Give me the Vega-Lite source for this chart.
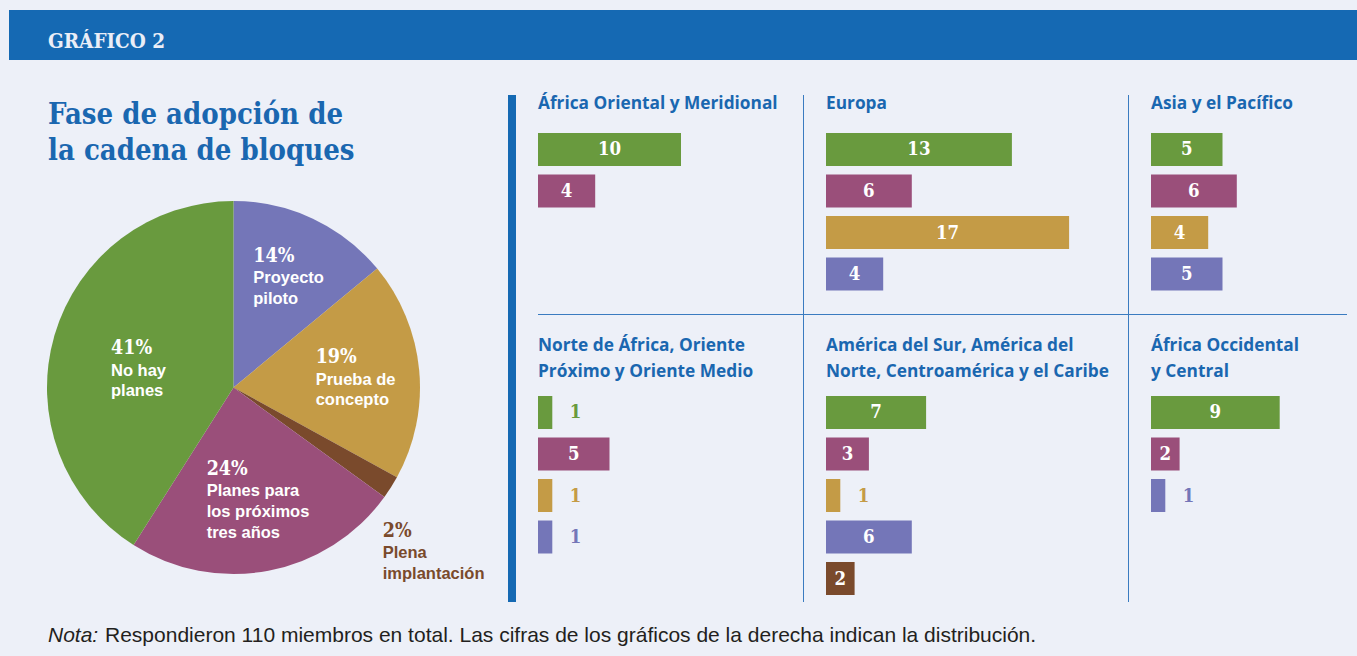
{
  "$schema": "https://vega.github.io/schema/vega-lite/v6.json",
  "background": "#EDF0F8",
  "padding": {"left": 9, "top": 10, "right": 0, "bottom": 10},
  "spacing": 34,
  "config": {"view": {"stroke": null}},
  "datasets": {
    "pastel": [
      {"fase": "Proyecto piloto", "etiqueta": "Proyecto\npiloto", "pct": 0.14, "orden": 1},
      {"fase": "Prueba de concepto", "etiqueta": "Prueba de\nconcepto", "pct": 0.19, "orden": 2},
      {"fase": "Plena implantación", "etiqueta": "Plena\nimplantación", "pct": 0.02, "orden": 3},
      {"fase": "Planes para los próximos tres años", "etiqueta": "Planes para\nlos próximos\ntres años", "pct": 0.24, "orden": 4},
      {"fase": "No hay planes", "etiqueta": "No hay\nplanes", "pct": 0.41, "orden": 5}
    ],
    "barras": [
      {"region": "África Oriental y Meridional", "fase": "No hay planes", "n": 10},
      {"region": "África Oriental y Meridional", "fase": "Planes para los próximos tres años", "n": 4},
      {"region": "Europa", "fase": "No hay planes", "n": 13},
      {"region": "Europa", "fase": "Planes para los próximos tres años", "n": 6},
      {"region": "Europa", "fase": "Prueba de concepto", "n": 17},
      {"region": "Europa", "fase": "Proyecto piloto", "n": 4},
      {"region": "Asia y el Pacífico", "fase": "No hay planes", "n": 5},
      {"region": "Asia y el Pacífico", "fase": "Planes para los próximos tres años", "n": 6},
      {"region": "Asia y el Pacífico", "fase": "Prueba de concepto", "n": 4},
      {"region": "Asia y el Pacífico", "fase": "Proyecto piloto", "n": 5},
      {"region": "Norte de África, Oriente Próximo y Oriente Medio", "fase": "No hay planes", "n": 1},
      {"region": "Norte de África, Oriente Próximo y Oriente Medio", "fase": "Planes para los próximos tres años", "n": 5},
      {"region": "Norte de África, Oriente Próximo y Oriente Medio", "fase": "Prueba de concepto", "n": 1},
      {"region": "Norte de África, Oriente Próximo y Oriente Medio", "fase": "Proyecto piloto", "n": 1},
      {"region": "América del Sur, América del Norte, Centroamérica y el Caribe", "fase": "No hay planes", "n": 7},
      {"region": "América del Sur, América del Norte, Centroamérica y el Caribe", "fase": "Planes para los próximos tres años", "n": 3},
      {"region": "América del Sur, América del Norte, Centroamérica y el Caribe", "fase": "Prueba de concepto", "n": 1},
      {"region": "América del Sur, América del Norte, Centroamérica y el Caribe", "fase": "Proyecto piloto", "n": 6},
      {"region": "América del Sur, América del Norte, Centroamérica y el Caribe", "fase": "Plena implantación", "n": 2},
      {"region": "África Occidental y Central", "fase": "No hay planes", "n": 9},
      {"region": "África Occidental y Central", "fase": "Planes para los próximos tres años", "n": 2},
      {"region": "África Occidental y Central", "fase": "Proyecto piloto", "n": 1}
    ]
  },
  "vconcat": [
    {
      "width": 1348, "height": 50,
      "data": {"values": []},
      "mark": "point",
      "view": {"fill": "#1569B3", "stroke": null},
      "title": {"text": "GRÁFICO 2", "anchor": "start", "orient": "top", "offset": -42.5, "dx": 39, "font": "DejaVu Serif Condensed, DejaVu Serif", "fontSize": 20.5, "fontWeight": "bold", "color": "#EAEEF7"}
    },
    {
      "spacing": 23,
      "vconcat": [
        {
          "spacing": 23,
          "hconcat": [
            {"width": 15, "height": 1, "data": {"values": []}, "mark": "point"},
            {
              "spacing": 35,
              "vconcat": [
                {"width": 373, "height": 1, "data": {"values": []}, "mark": "point",
                 "title": {"text": ["Fase de adopción de", "la cadena de bloques"], "orient": "bottom", "anchor": "start", "offset": 5, "dx": 1,
                   "font": "DejaVu Serif Condensed, DejaVu Serif", "fontSize": 29, "fontWeight": "bold", "color": "#1A67B0", "lineHeight": 36, "limit": 400}},
                {
                  "width": 373, "height": 373,
                  "data": {"name": "pastel"},
                  "encoding": {
                    "theta": {"field": "pct", "type": "quantitative", "stack": true},
                    "order": {"field": "orden", "type": "quantitative"}
                  },
                  "layer": [
                    {"mark": {"type": "arc"},
                     "encoding": {"color": {"field": "fase", "type": "nominal", "legend": null,
                       "scale": {"domain": ["No hay planes", "Planes para los próximos tres años", "Prueba de concepto", "Proyecto piloto", "Plena implantación"],
                                 "range": ["#699A3E", "#9A4F7A", "#C49B46", "#7476B8", "#7A4A2C"]}}}},
                    {"mark": {"type": "text", "radius": 131, "dx": -36, "dy": -7, "align": "left", "baseline": "alphabetic", "font": "DejaVu Serif Condensed, DejaVu Serif", "fontSize": 19.5, "fontWeight": "bold", "color": "white"},
                     "encoding": {"text": {"condition": {"test": "datum.fase !== 'Proyecto piloto'", "value": ""}, "field": "pct", "type": "quantitative", "format": ".0%"}}},
                    {"mark": {"type": "text", "radius": 131, "dx": -36, "dy": 14.3, "align": "left", "baseline": "alphabetic", "font": "Liberation Sans", "fontSize": 16.5, "fontWeight": "bold", "color": "white", "lineBreak": "\n", "lineHeight": 20.7},
                     "encoding": {"text": {"condition": {"test": "datum.fase !== 'Proyecto piloto'", "value": ""}, "field": "etiqueta", "type": "nominal"}}},
                    {"mark": {"type": "text", "radius": 124, "dx": -41.3, "dy": -12.5, "align": "left", "baseline": "alphabetic", "font": "DejaVu Serif Condensed, DejaVu Serif", "fontSize": 19.5, "fontWeight": "bold", "color": "white"},
                     "encoding": {"text": {"condition": {"test": "datum.fase !== 'Prueba de concepto'", "value": ""}, "field": "pct", "type": "quantitative", "format": ".0%"}}},
                    {"mark": {"type": "text", "radius": 124, "dx": -41.3, "dy": 8.8, "align": "left", "baseline": "alphabetic", "font": "Liberation Sans", "fontSize": 16.5, "fontWeight": "bold", "color": "white", "lineBreak": "\n", "lineHeight": 20.7},
                     "encoding": {"text": {"condition": {"test": "datum.fase !== 'Prueba de concepto'", "value": ""}, "field": "etiqueta", "type": "nominal"}}},
                    {"mark": {"type": "text", "radius": 98, "dx": -45.2, "dy": -8.8, "align": "left", "baseline": "alphabetic", "font": "DejaVu Serif Condensed, DejaVu Serif", "fontSize": 19.5, "fontWeight": "bold", "color": "white"},
                     "encoding": {"text": {"condition": {"test": "datum.fase !== 'Planes para los próximos tres años'", "value": ""}, "field": "pct", "type": "quantitative", "format": ".0%"}}},
                    {"mark": {"type": "text", "radius": 98, "dx": -45.2, "dy": 12.5, "align": "left", "baseline": "alphabetic", "font": "Liberation Sans", "fontSize": 16.5, "fontWeight": "bold", "color": "white", "lineBreak": "\n", "lineHeight": 20.7},
                     "encoding": {"text": {"condition": {"test": "datum.fase !== 'Planes para los próximos tres años'", "value": ""}, "field": "etiqueta", "type": "nominal"}}},
                    {"mark": {"type": "text", "radius": 85, "dx": -40.9, "dy": -9.5, "align": "left", "baseline": "alphabetic", "font": "DejaVu Serif Condensed, DejaVu Serif", "fontSize": 19.5, "fontWeight": "bold", "color": "white"},
                     "encoding": {"text": {"condition": {"test": "datum.fase !== 'No hay planes'", "value": ""}, "field": "pct", "type": "quantitative", "format": ".0%"}}},
                    {"mark": {"type": "text", "radius": 85, "dx": -40.9, "dy": 11.8, "align": "left", "baseline": "alphabetic", "font": "Liberation Sans", "fontSize": 16.5, "fontWeight": "bold", "color": "white", "lineBreak": "\n", "lineHeight": 20.7},
                     "encoding": {"text": {"condition": {"test": "datum.fase !== 'No hay planes'", "value": ""}, "field": "etiqueta", "type": "nominal"}}},
                    {"transform": [{"stack": "pct", "groupby": [], "sort": [{"field": "orden", "order": "ascending"}], "as": ["ini", "fin"]}, {"filter": "datum.fase === 'Plena implantación'"}],
                     "mark": {"type": "text", "radius": 215, "dx": -24.7, "dy": 22.8, "align": "left", "baseline": "alphabetic", "font": "DejaVu Serif Condensed, DejaVu Serif", "fontSize": 19.5, "fontWeight": "bold", "color": "#7A4A2C"},
                     "encoding": {"theta": {"field": "fin", "type": "quantitative", "stack": null}, "text": {"field": "pct", "type": "quantitative", "format": ".0%"}}},
                    {"transform": [{"stack": "pct", "groupby": [], "sort": [{"field": "orden", "order": "ascending"}], "as": ["ini", "fin"]}, {"filter": "datum.fase === 'Plena implantación'"}],
                     "mark": {"type": "text", "radius": 215, "dx": -24.7, "dy": 44.1, "align": "left", "baseline": "alphabetic", "font": "Liberation Sans", "fontSize": 16.5, "fontWeight": "bold", "color": "#7A4A2C", "lineBreak": "\n", "lineHeight": 20.7},
                     "encoding": {"theta": {"field": "fin", "type": "quantitative", "stack": null}, "text": {"field": "etiqueta", "type": "nominal"}}}
                  ]
                }
              ]
            },
            {
              "spacing": 22,
              "bounds": "flush",
              "hconcat": [
                {"width": 8, "height": 507, "data": {"values": []}, "mark": "point", "view": {"fill": "#1569B3", "stroke": null}},
                {
                  "spacing": 0,
                  "vconcat": [
                    {
                      "spacing": 22,
                      "bounds": "flush",
                      "hconcat": [
                        {
                          "width": 243, "height": 219,
                          "data": {"name": "barras"},
                          "transform": [{"filter": "datum.region === 'África Oriental y Meridional'"}],
                          "title": {"text": "África Oriental y Meridional", "anchor": "start", "orient": "top", "offset": -17, "limit": 400, "font": "Open Sans", "fontSize": 17.3, "fontWeight": "bold", "color": "#1A67B0"},
                          "encoding": {
                            "y": {"field": "fase", "type": "nominal", "axis": null, "sort": ["No hay planes", "Planes para los próximos tres años", "Prueba de concepto", "Proyecto piloto", "Plena implantación"],
                                  "scale": {"range": [38, 112.5], "paddingInner": 0.205, "paddingOuter": 0}},
                            "color": {"field": "fase", "type": "nominal", "legend": null,
                              "scale": {"domain": ["No hay planes", "Planes para los próximos tres años", "Prueba de concepto", "Proyecto piloto", "Plena implantación"], "range": ["#699A3E", "#9A4F7A", "#C49B46", "#7476B8", "#7A4A2C"]}}
                          },
                          "layer": [
                            {"mark": {"type": "bar"}, "encoding": {"x": {"field": "n", "type": "quantitative", "axis": null, "scale": {"domain": [0, 10], "range": [0, 143]}}}},
                            {"transform": [{"filter": "datum.n > 1"}], "mark": {"type": "text", "align": "center", "baseline": "middle", "font": "DejaVu Serif Condensed, DejaVu Serif", "fontSize": 18.5, "fontWeight": "bold"},
                             "encoding": {"x": {"field": "n", "type": "quantitative", "stack": "zero", "bandPosition": 0.5}, "text": {"field": "n", "type": "quantitative"}, "color": {"value": "white"}}},
                            {"transform": [{"filter": "datum.n === 1"}], "mark": {"type": "text", "align": "left", "baseline": "middle", "dx": 17.5, "font": "DejaVu Serif Condensed, DejaVu Serif", "fontSize": 18.5, "fontWeight": "bold"},
                             "encoding": {"x": {"field": "n", "type": "quantitative"}, "text": {"field": "n", "type": "quantitative"}}}
                          ]
                        },
                        {"width": 1, "height": 219, "data": {"values": []}, "mark": "point", "view": {"fill": "#3A7BC0", "stroke": null}},
                        {
                          "width": 280, "height": 219,
                          "data": {"name": "barras"},
                          "transform": [{"filter": "datum.region === 'Europa'"}],
                          "title": {"text": "Europa", "anchor": "start", "orient": "top", "offset": -17, "limit": 400, "font": "Open Sans", "fontSize": 17.3, "fontWeight": "bold", "color": "#1A67B0"},
                          "encoding": {
                            "y": {"field": "fase", "type": "nominal", "axis": null, "sort": ["No hay planes", "Planes para los próximos tres años", "Prueba de concepto", "Proyecto piloto", "Plena implantación"],
                                  "scale": {"range": [38, 195.5], "paddingInner": 0.205, "paddingOuter": 0}},
                            "color": {"field": "fase", "type": "nominal", "legend": null,
                              "scale": {"domain": ["No hay planes", "Planes para los próximos tres años", "Prueba de concepto", "Proyecto piloto", "Plena implantación"], "range": ["#699A3E", "#9A4F7A", "#C49B46", "#7476B8", "#7A4A2C"]}}
                          },
                          "layer": [
                            {"mark": {"type": "bar"}, "encoding": {"x": {"field": "n", "type": "quantitative", "axis": null, "scale": {"domain": [0, 10], "range": [0, 143]}}}},
                            {"transform": [{"filter": "datum.n > 1"}], "mark": {"type": "text", "align": "center", "baseline": "middle", "font": "DejaVu Serif Condensed, DejaVu Serif", "fontSize": 18.5, "fontWeight": "bold"},
                             "encoding": {"x": {"field": "n", "type": "quantitative", "stack": "zero", "bandPosition": 0.5}, "text": {"field": "n", "type": "quantitative"}, "color": {"value": "white"}}},
                            {"transform": [{"filter": "datum.n === 1"}], "mark": {"type": "text", "align": "left", "baseline": "middle", "dx": 17.5, "font": "DejaVu Serif Condensed, DejaVu Serif", "fontSize": 18.5, "fontWeight": "bold"},
                             "encoding": {"x": {"field": "n", "type": "quantitative"}, "text": {"field": "n", "type": "quantitative"}}}
                          ]
                        },
                        {"width": 1, "height": 219, "data": {"values": []}, "mark": "point", "view": {"fill": "#3A7BC0", "stroke": null}},
                        {
                          "width": 196, "height": 219,
                          "data": {"name": "barras"},
                          "transform": [{"filter": "datum.region === 'Asia y el Pacífico'"}],
                          "title": {"text": "Asia y el Pacífico", "anchor": "start", "orient": "top", "offset": -17, "limit": 400, "font": "Open Sans", "fontSize": 17.3, "fontWeight": "bold", "color": "#1A67B0"},
                          "encoding": {
                            "y": {"field": "fase", "type": "nominal", "axis": null, "sort": ["No hay planes", "Planes para los próximos tres años", "Prueba de concepto", "Proyecto piloto", "Plena implantación"],
                                  "scale": {"range": [38, 195.5], "paddingInner": 0.205, "paddingOuter": 0}},
                            "color": {"field": "fase", "type": "nominal", "legend": null,
                              "scale": {"domain": ["No hay planes", "Planes para los próximos tres años", "Prueba de concepto", "Proyecto piloto", "Plena implantación"], "range": ["#699A3E", "#9A4F7A", "#C49B46", "#7476B8", "#7A4A2C"]}}
                          },
                          "layer": [
                            {"mark": {"type": "bar"}, "encoding": {"x": {"field": "n", "type": "quantitative", "axis": null, "scale": {"domain": [0, 10], "range": [0, 143]}}}},
                            {"transform": [{"filter": "datum.n > 1"}], "mark": {"type": "text", "align": "center", "baseline": "middle", "font": "DejaVu Serif Condensed, DejaVu Serif", "fontSize": 18.5, "fontWeight": "bold"},
                             "encoding": {"x": {"field": "n", "type": "quantitative", "stack": "zero", "bandPosition": 0.5}, "text": {"field": "n", "type": "quantitative"}, "color": {"value": "white"}}},
                            {"transform": [{"filter": "datum.n === 1"}], "mark": {"type": "text", "align": "left", "baseline": "middle", "dx": 17.5, "font": "DejaVu Serif Condensed, DejaVu Serif", "fontSize": 18.5, "fontWeight": "bold"},
                             "encoding": {"x": {"field": "n", "type": "quantitative"}, "text": {"field": "n", "type": "quantitative"}}}
                          ]
                        }
                      ]
                    },
                    {"width": 809, "height": 1, "data": {"values": []}, "mark": "point", "view": {"fill": "#3A7BC0", "stroke": null}},
                    {
                      "spacing": 22,
                      "bounds": "flush",
                      "hconcat": [
                        {
                          "width": 243, "height": 287,
                          "data": {"name": "barras"},
                          "transform": [{"filter": "datum.region === 'Norte de África, Oriente Próximo y Oriente Medio'"}],
                          "title": {"text": ["Norte de África, Oriente", "Próximo y Oriente Medio"], "lineHeight": 26, "anchor": "start", "orient": "top", "offset": -65, "limit": 400, "font": "Open Sans", "fontSize": 17.3, "fontWeight": "bold", "color": "#1A67B0"},
                          "encoding": {
                            "y": {"field": "fase", "type": "nominal", "axis": null, "sort": ["No hay planes", "Planes para los próximos tres años", "Prueba de concepto", "Proyecto piloto", "Plena implantación"],
                                  "scale": {"range": [81, 238.5], "paddingInner": 0.205, "paddingOuter": 0}},
                            "color": {"field": "fase", "type": "nominal", "legend": null,
                              "scale": {"domain": ["No hay planes", "Planes para los próximos tres años", "Prueba de concepto", "Proyecto piloto", "Plena implantación"], "range": ["#699A3E", "#9A4F7A", "#C49B46", "#7476B8", "#7A4A2C"]}}
                          },
                          "layer": [
                            {"mark": {"type": "bar"}, "encoding": {"x": {"field": "n", "type": "quantitative", "axis": null, "scale": {"domain": [0, 10], "range": [0, 143]}}}},
                            {"transform": [{"filter": "datum.n > 1"}], "mark": {"type": "text", "align": "center", "baseline": "middle", "font": "DejaVu Serif Condensed, DejaVu Serif", "fontSize": 18.5, "fontWeight": "bold"},
                             "encoding": {"x": {"field": "n", "type": "quantitative", "stack": "zero", "bandPosition": 0.5}, "text": {"field": "n", "type": "quantitative"}, "color": {"value": "white"}}},
                            {"transform": [{"filter": "datum.n === 1"}], "mark": {"type": "text", "align": "left", "baseline": "middle", "dx": 17.5, "font": "DejaVu Serif Condensed, DejaVu Serif", "fontSize": 18.5, "fontWeight": "bold"},
                             "encoding": {"x": {"field": "n", "type": "quantitative"}, "text": {"field": "n", "type": "quantitative"}}}
                          ]
                        },
                        {"width": 1, "height": 287, "data": {"values": []}, "mark": "point", "view": {"fill": "#3A7BC0", "stroke": null}},
                        {
                          "width": 280, "height": 287,
                          "data": {"name": "barras"},
                          "transform": [{"filter": "datum.region === 'América del Sur, América del Norte, Centroamérica y el Caribe'"}],
                          "title": {"text": ["América del Sur, América del", "Norte, Centroamérica y el Caribe"], "lineHeight": 26, "anchor": "start", "orient": "top", "offset": -65, "limit": 400, "font": "Open Sans", "fontSize": 17.3, "fontWeight": "bold", "color": "#1A67B0"},
                          "encoding": {
                            "y": {"field": "fase", "type": "nominal", "axis": null, "sort": ["No hay planes", "Planes para los próximos tres años", "Prueba de concepto", "Proyecto piloto", "Plena implantación"],
                                  "scale": {"range": [81, 280], "paddingInner": 0.205, "paddingOuter": 0}},
                            "color": {"field": "fase", "type": "nominal", "legend": null,
                              "scale": {"domain": ["No hay planes", "Planes para los próximos tres años", "Prueba de concepto", "Proyecto piloto", "Plena implantación"], "range": ["#699A3E", "#9A4F7A", "#C49B46", "#7476B8", "#7A4A2C"]}}
                          },
                          "layer": [
                            {"mark": {"type": "bar"}, "encoding": {"x": {"field": "n", "type": "quantitative", "axis": null, "scale": {"domain": [0, 10], "range": [0, 143]}}}},
                            {"transform": [{"filter": "datum.n > 1"}], "mark": {"type": "text", "align": "center", "baseline": "middle", "font": "DejaVu Serif Condensed, DejaVu Serif", "fontSize": 18.5, "fontWeight": "bold"},
                             "encoding": {"x": {"field": "n", "type": "quantitative", "stack": "zero", "bandPosition": 0.5}, "text": {"field": "n", "type": "quantitative"}, "color": {"value": "white"}}},
                            {"transform": [{"filter": "datum.n === 1"}], "mark": {"type": "text", "align": "left", "baseline": "middle", "dx": 17.5, "font": "DejaVu Serif Condensed, DejaVu Serif", "fontSize": 18.5, "fontWeight": "bold"},
                             "encoding": {"x": {"field": "n", "type": "quantitative"}, "text": {"field": "n", "type": "quantitative"}}}
                          ]
                        },
                        {"width": 1, "height": 287, "data": {"values": []}, "mark": "point", "view": {"fill": "#3A7BC0", "stroke": null}},
                        {
                          "width": 196, "height": 287,
                          "data": {"name": "barras"},
                          "transform": [{"filter": "datum.region === 'África Occidental y Central'"}],
                          "title": {"text": ["África Occidental", "y Central"], "lineHeight": 26, "anchor": "start", "orient": "top", "offset": -65, "limit": 400, "font": "Open Sans", "fontSize": 17.3, "fontWeight": "bold", "color": "#1A67B0"},
                          "encoding": {
                            "y": {"field": "fase", "type": "nominal", "axis": null, "sort": ["No hay planes", "Planes para los próximos tres años", "Prueba de concepto", "Proyecto piloto", "Plena implantación"],
                                  "scale": {"range": [81, 197], "paddingInner": 0.205, "paddingOuter": 0}},
                            "color": {"field": "fase", "type": "nominal", "legend": null,
                              "scale": {"domain": ["No hay planes", "Planes para los próximos tres años", "Prueba de concepto", "Proyecto piloto", "Plena implantación"], "range": ["#699A3E", "#9A4F7A", "#C49B46", "#7476B8", "#7A4A2C"]}}
                          },
                          "layer": [
                            {"mark": {"type": "bar"}, "encoding": {"x": {"field": "n", "type": "quantitative", "axis": null, "scale": {"domain": [0, 10], "range": [0, 143]}}}},
                            {"transform": [{"filter": "datum.n > 1"}], "mark": {"type": "text", "align": "center", "baseline": "middle", "font": "DejaVu Serif Condensed, DejaVu Serif", "fontSize": 18.5, "fontWeight": "bold"},
                             "encoding": {"x": {"field": "n", "type": "quantitative", "stack": "zero", "bandPosition": 0.5}, "text": {"field": "n", "type": "quantitative"}, "color": {"value": "white"}}},
                            {"transform": [{"filter": "datum.n === 1"}], "mark": {"type": "text", "align": "left", "baseline": "middle", "dx": 17.5, "font": "DejaVu Serif Condensed, DejaVu Serif", "fontSize": 18.5, "fontWeight": "bold"},
                             "encoding": {"x": {"field": "n", "type": "quantitative"}, "text": {"field": "n", "type": "quantitative"}}}
                          ]
                        }
                      ]
                    }
                  ]
                }
              ]
            }
          ]
        },
        {
          "spacing": 6,
          "hconcat": [
            {"width": 1, "height": 1, "data": {"values": []}, "mark": "point",
             "title": {"text": "Nota:", "anchor": "start", "orient": "top", "offset": 0, "dx": 39, "limit": 400, "font": "Liberation Sans", "fontSize": 21, "fontStyle": "italic", "fontWeight": "normal", "color": "#231F20"}},
            {"width": 1, "height": 1, "data": {"values": []}, "mark": "point",
             "title": {"text": "Respondieron 110 miembros en total. Las cifras de los gráficos de la derecha indican la distribución.", "anchor": "start", "orient": "top", "offset": 0, "limit": 1300, "font": "Liberation Sans", "fontSize": 21, "fontStyle": "normal", "fontWeight": "normal", "color": "#231F20"}}
          ]
        }
      ]
    }
  ]
}
